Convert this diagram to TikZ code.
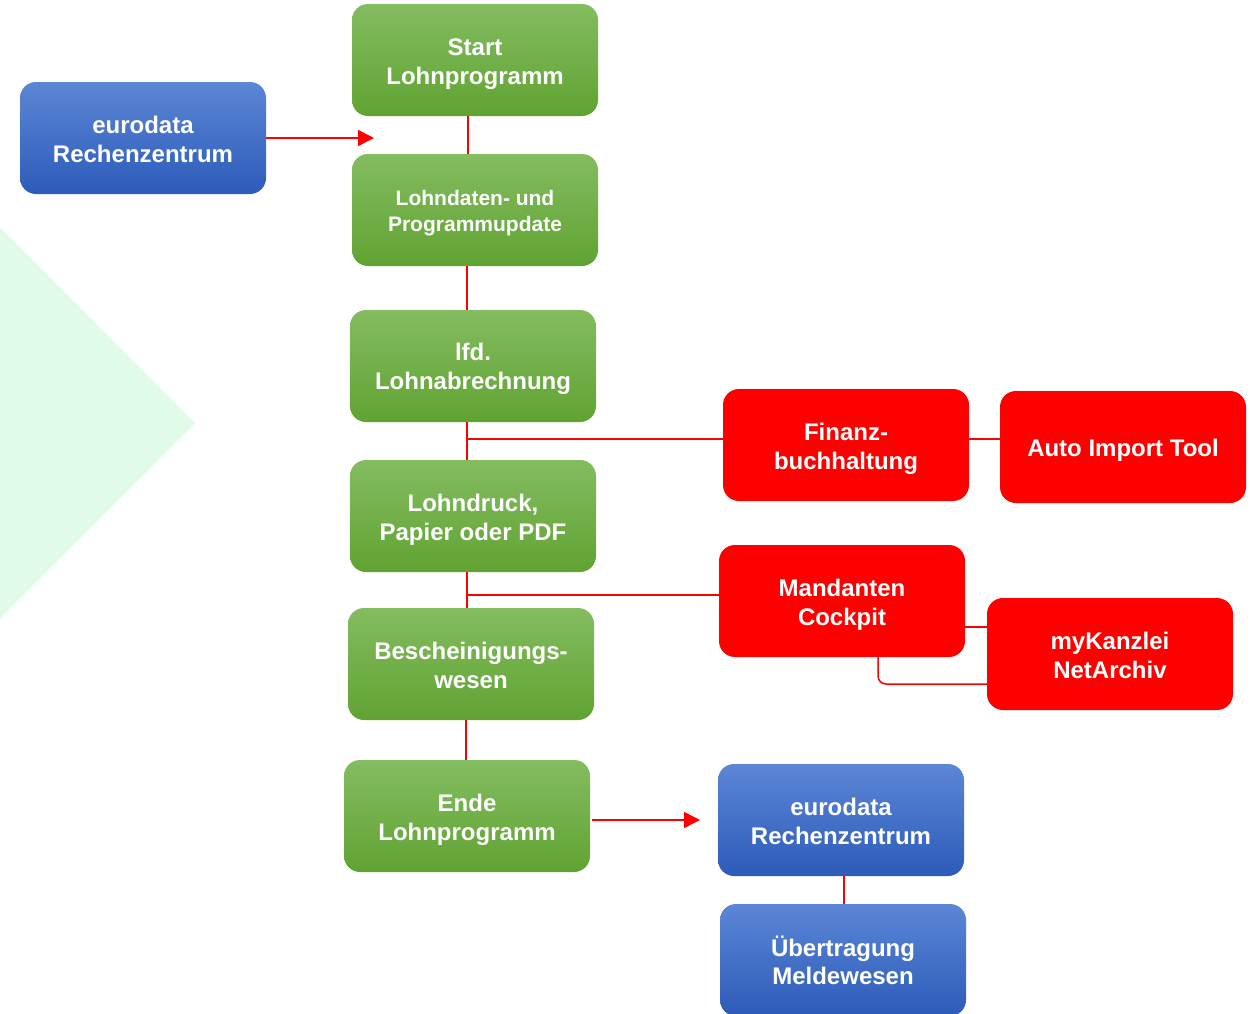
\documentclass[tikz,border=0pt]{standalone}
\usepackage{fontspec}
\setmainfont{Liberation Sans}
\usetikzlibrary{arrows.meta,calc}
\definecolor{gtop}{HTML}{84BC60}
\definecolor{gbot}{HTML}{60A332}
\definecolor{btop}{HTML}{5C86D6}
\definecolor{bbot}{HTML}{2C5BB9}
\definecolor{myred}{HTML}{FF0000}
\definecolor{diam}{HTML}{E0FCE6}
\tikzset{
  box/.style={rounded corners=16pt, minimum width=246pt, minimum height=112pt, inner sep=0pt},
  gbox/.style={box, top color=gtop, bottom color=gbot},
  bbox/.style={box, top color=btop, bottom color=bbot},
  rbox/.style={box, fill=myred},
  lbl/.style={inner sep=0pt, align=center, text=white, font=\fontsize{24}{28.5}\selectfont\bfseries, yshift=-4pt},
  lblb/.style={lbl, yshift=2.5pt},
  conn/.style={draw=myred, line width=1.5pt},
  arr/.style={conn, -{Triangle[length=16pt,width=16pt]}}
}
\begin{document}
\begin{tikzpicture}[x=1pt,y=-1pt]
\useasboundingbox (0,0) rectangle (1251,1013);
\fill[diam] (0,227) -- (195,423) -- (0,619) -- cycle;

\node[gbox] (start) at (475,60) {};
\node[bbox] (eu1) at (143,138) {};
\node[gbox] (upd) at (475,210) {};
\node[gbox] (lfd) at (473,366) {};
\node[gbox] (druck) at (473,516) {};
\node[gbox] (besch) at (471,664) {};
\node[gbox] (ende) at (467,816) {};
\node[rbox] (fibu) at (846,445) {};
\node[rbox] (ait) at (1123,447) {};
\node[rbox] (mand) at (842,601) {};
\node[rbox] (myk) at (1110,654) {};
\node[bbox] (eu2) at (841,820) {};
\node[bbox] (uebt) at (843,960) {};

\node[lbl] (start-t) at (start) {Start\\Lohnprogramm};
\node[lblb] (eu1-t) at (eu1) {eurodata\\Rechenzentrum};
\node[lbl, font=\fontsize{21}{26}\selectfont\bfseries, yshift=0.5pt] (upd-t) at (upd) {Lohndaten- und\\Programmupdate};
\node[lbl, yshift=1pt] (lfd-t) at (lfd) {lfd.\\Lohnabrechnung};
\node[lbl] (druck-t) at (druck) {Lohndruck,\\Papier oder PDF};
\node[lblb] (besch-t) at (besch) {Bescheinigungs-\\wesen};
\node[lbl] (ende-t) at (ende) {Ende\\Lohnprogramm};
\node[lbl] (fibu-t) at (fibu) {Finanz-\\buchhaltung};
\node[lbl, yshift=1pt] (ait-t) at (ait) {Auto Import Tool};
\node[lbl] (mand-t) at (mand) {Mandanten\\Cockpit};
\node[lblb] (myk-t) at (myk) {myKanzlei\\NetArchiv};
\node[lblb] (eu2-t) at (eu2) {eurodata\\Rechenzentrum};
\node[lblb, yshift=1pt] (uebt-t) at (uebt) {Übertragung\\Meldewesen};

\coordinate (arr1end) at (374,138);
\coordinate (arr2end) at (700,820);
\coordinate (j1) at (467,439);
\coordinate (j2) at (467,595);

\draw[arr] (eu1.east |- arr1end) -- (arr1end);
\draw[conn] (start.south -| 468,0) -- (upd.north -| 468,0);
\draw[conn] (upd.south -| 467,0) -- (lfd.north -| 467,0);
\draw[conn] (lfd.south -| 467,0) -- (druck.north -| 467,0);
\draw[conn] (j1) -- (fibu.west |- j1);
\draw[conn] (fibu.east |- j1) -- (ait.west |- j1);
\draw[conn] (druck.south -| 467,0) -- (besch.north -| 467,0);
\draw[conn] (j2) -- (mand.west |- j2);
\draw[conn] (mand.east |- 0,627) -- (myk.west |- 0,627);
\draw[conn, rounded corners=8pt] (mand.south -| 878,0) -- (878,684) -- (myk.west |- 0,684);
\draw[conn] (besch.south -| 466,0) -- (ende.north -| 466,0);
\draw[arr] (ende.east |- arr2end) ++(2,0) -- (arr2end);
\draw[conn] (eu2.south -| 844,0) -- (uebt.north -| 844,0);
\end{tikzpicture}
\end{document}
